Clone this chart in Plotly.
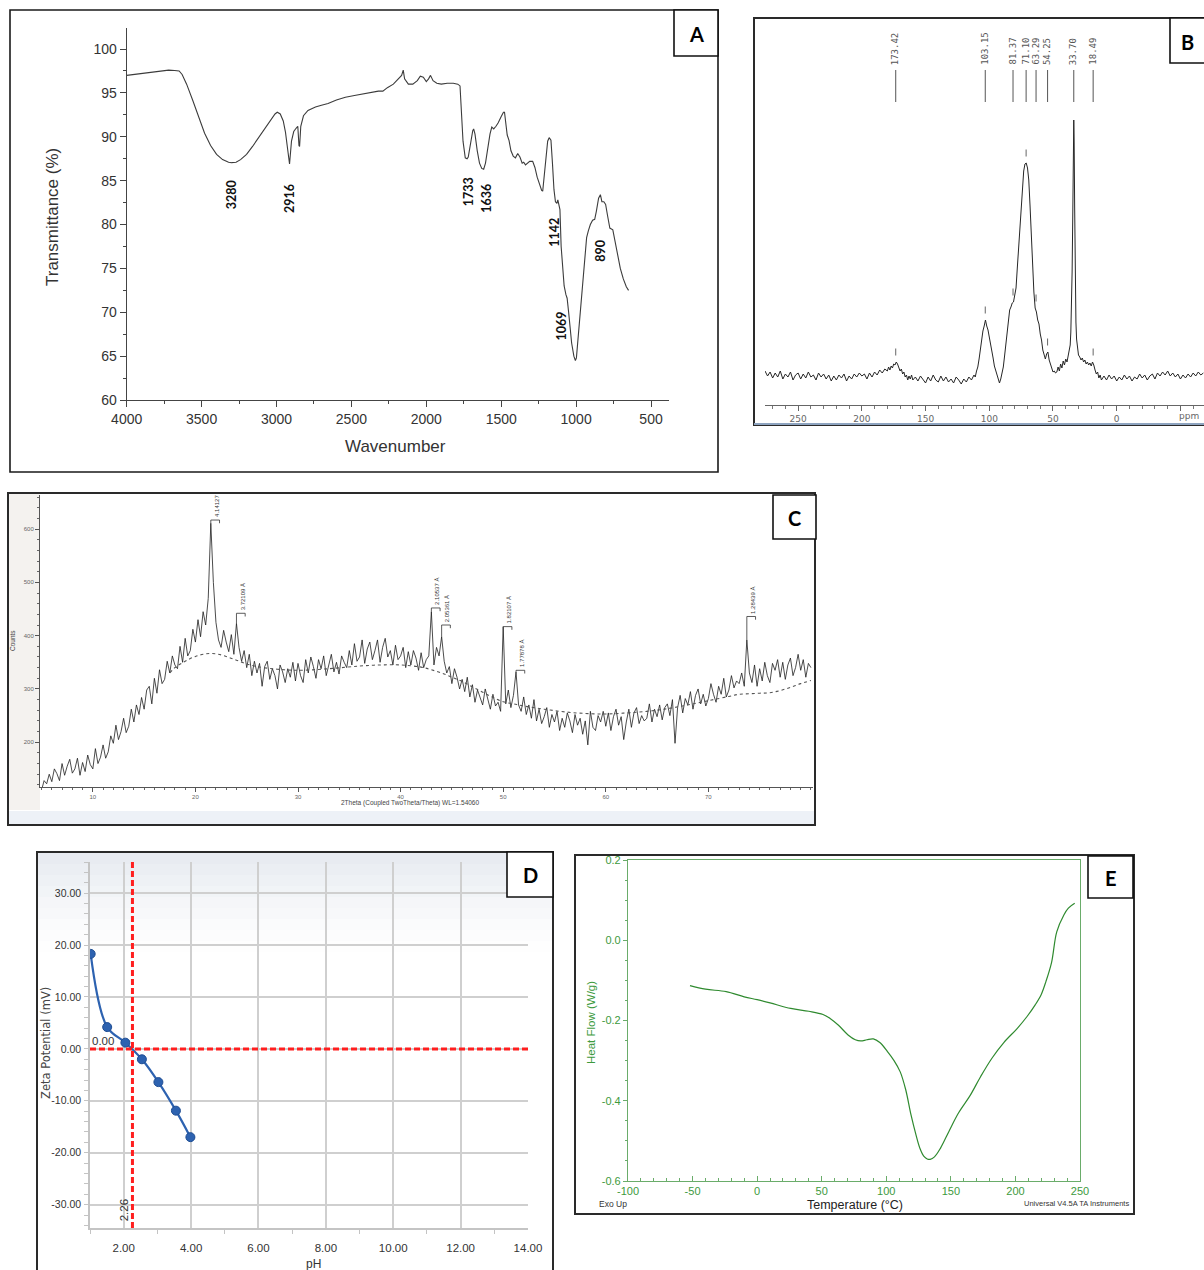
import plotly.graph_objects as go

W, H = 1204, 1270

# ---------------- A: FTIR spectrum ----------------
ftir_wavenumber = [4000, 3950, 3900, 3850, 3800, 3760, 3720, 3680, 3650, 3630,
                   3600, 3560, 3520, 3480, 3440, 3400, 3360, 3320, 3300, 3270,
                   3240, 3200, 3160, 3120, 3080, 3040, 3010, 2995, 2975, 2955,
                   2940, 2925, 2913, 2900, 2885, 2868, 2858, 2850, 2846, 2838,
                   2820, 2790, 2740, 2700, 2656, 2600, 2540, 2480, 2420, 2360,
                   2320, 2290, 2260, 2220, 2190, 2165, 2154, 2145, 2120, 2090,
                   2060, 2040, 2020, 2000, 1985, 1972, 1955, 1930, 1900, 1860,
                   1820, 1790, 1775, 1765, 1755, 1740, 1728, 1720, 1705, 1690,
                   1684, 1675, 1660, 1645, 1630, 1617, 1605, 1590, 1575, 1563,
                   1550, 1535, 1520, 1500, 1485, 1478, 1470, 1460, 1448, 1435,
                   1420, 1405, 1390, 1375, 1360, 1350, 1338, 1325, 1310, 1290,
                   1275, 1260, 1245, 1230, 1223, 1212, 1200, 1190, 1180, 1168,
                   1158, 1148, 1138, 1128, 1122, 1115, 1108, 1100, 1090, 1080,
                   1068, 1060, 1050, 1040, 1030, 1015, 1005, 998, 990, 980,
                   970, 958, 945, 930, 918, 905, 890, 876, 865, 850,
                   838, 828, 815, 803, 790, 775, 755, 740, 725, 705,
                   685, 665, 650]
ftir_transmittance = [97.0, 97.1, 97.2, 97.35, 97.4, 97.5, 97.6, 97.55, 97.5, 97.1,
                      96.0, 94.2, 92.2, 90.4, 89.0, 88.0, 87.4, 87.1, 87.05, 87.1,
                      87.4, 88.0, 88.9, 89.9, 90.9, 91.9, 92.6, 92.8, 92.6, 91.8,
                      90.5, 88.5, 86.9, 89.5, 90.6, 91.0, 91.2, 89.0, 88.9, 91.2,
                      92.4, 93.0, 93.4, 93.6, 93.8, 94.2, 94.5, 94.7, 94.9, 95.1,
                      95.2, 95.2, 95.6, 96.0, 96.6, 97.0, 97.6, 96.6, 96.0, 96.0,
                      96.4, 96.9, 96.8, 96.3, 96.6, 97.0, 96.4, 96.1, 96.0, 96.1,
                      96.1, 96.0, 95.8, 93.0, 89.5, 87.6, 87.5, 87.7, 89.5, 90.7,
                      90.9, 90.3, 88.4, 87.0, 86.4, 86.3, 87.0, 88.8, 90.3, 91.1,
                      90.9, 91.2, 91.6, 92.3, 92.8, 92.8, 91.5, 90.2, 89.6, 88.4,
                      87.8, 87.6, 88.1, 87.7, 87.0, 87.1, 86.8, 87.0, 87.2, 87.2,
                      86.5, 85.4, 84.5, 83.9, 83.8, 85.5, 88.0, 89.5, 89.9, 89.6,
                      87.0, 84.0, 82.6, 82.4, 82.8, 82.2, 81.7, 77.5, 75.0, 73.0,
                      72.0, 71.6, 70.0, 68.0, 66.5, 65.0, 64.5, 64.8, 66.5, 68.8,
                      71.0, 73.5, 76.0, 78.5, 79.3, 80.0, 80.5, 80.6, 81.5, 83.0,
                      83.4, 82.6, 82.6, 82.3, 81.0, 79.6, 79.4, 78.0, 76.5, 75.0,
                      73.8, 72.9, 72.5]
ftir_band_labels = ["3280", "2916", "1733", "1636", "1142", "890", "1069"]
ftir_label_wavenumber = [3300, 2912, 1720, 1598, 1145, 834, 1101]
ftir_label_transmittance = [83.4, 83.0, 83.7, 83.0, 79.1, 77.0, 68.5]

# ---------------- B: 13C CP-MAS NMR ----------------
nmr_ppm = (list(range(276, 181, -2)) + list(range(180, 159, -1)) + list(range(158, 111, -2))
           + list(range(111, 36, -1))
           + [36.5, 36, 35.5, 35, 34.5, 34, 33.7, 33.4, 33, 32.5, 32, 31.5, 31, 30.5]
           + list(range(30, 11, -1)) + list(range(10, -69, -2)))
nmr_intensity = ([6, 1, 5, -1, 4, 0, 6, -2, 3, 0, 5, -3, 2, 4, -2, 3, -1, 5, 0, 2,
                  -3, 4, 0, 3, -2, 2, -4, 1, -3, 2, -1, 3, -4, 1, -2, 3, 0, 4, 1, 3,
                  -2, 4, 0, 5, 2, 7, 4, 8]
                 + [6, 10, 7, 11, 9, 13, 12, 15, 13, 10, 6, 8, 3, 5, 0, 2, -3, 1, -2, 2, -3]
                 + [0, -4, 1, -3, -6, 0, -4, 2, -3, -5, 1, -4, 0, -5, -2, -6, 0, -3, -7, -2, -5, 0, -3, 2]
                 + [0, 6, 10, 18, 28, 38, 46, 51, 57, 51, 47, 40, 34, 25, 19, 11, 7, 1, -3, -6,
                    -2, 4, 10, 21, 33, 49, 59, 67, 70, 74, 75, 81, 89, 109, 129, 156, 177, 197, 206, 213,
                    214, 209, 197, 171, 141, 107, 85, 69, 65, 57, 53, 43, 37, 27, 23, 18, 23, 25, 17, 12,
                    7, 5, 6, 4, 5, 10, 6, 13, 9, 16, 12, 18, 15, 21, 26]
                 + [32, 45, 70, 105, 160, 225, 257, 235, 170, 95, 55, 38, 30, 25]
                 + [22, 20, 17, 19, 15, 17, 13, 15, 12, 14, 11, 15, 12, 7, 3, 5, -1, 2, -3]
                 + [1, -3, 2, -2, 1, -4, 0, -3, 2, -2, 1, -4, 0, -2, 3, -1, 2, -3, 1, 3,
                    -2, 4, 1, 5, 2, 6, 1, 4, 0, 3, -2, 2, -1, 3, 0, 4, 1, 5, 2, 4])
nmr_peak_ppm = [173.42, 103.15, 81.37, 71.10, 63.29, 54.25, 33.70, 18.49]
nmr_tick_labels = ["250", "200", "150", "100", "50", "0", ""]

# ---------------- C: XRD pattern ----------------
xrd_counts = [110, 128, 122, 140, 126, 150, 141, 128, 160, 138, 155, 168, 142, 150, 170, 138,
              162, 145, 176, 158, 150, 188, 160, 172, 195, 170, 182, 212, 198, 232, 205, 220,
              245, 218, 230, 262, 238, 270, 252, 284, 262, 298, 305, 272, 320, 292, 336, 310,
              318, 352, 330, 362, 345, 338, 380, 350, 395, 362, 372, 412, 388, 430, 398, 445,
              420, 470, 611, 500, 425, 392, 378, 410, 388, 370, 402, 365, 423, 378, 352, 372,
              340, 365, 325, 352, 330, 348, 305, 342, 352, 318, 338, 325, 300, 345, 332, 312,
              338, 322, 350, 315, 348, 325, 312, 355, 330, 360, 342, 320, 355, 338, 362, 325,
              345, 365, 332, 350, 328, 362, 350, 340, 372, 345, 385, 352, 360, 392, 348, 375,
              388, 355, 372, 392, 350, 378, 395, 360, 372, 345, 382, 355, 362, 378, 340, 370,
              345, 372, 358, 335, 368, 340, 355, 362, 445, 345, 378, 362, 398, 352, 330, 342,
              310, 338, 322, 300, 318, 295, 322, 285, 308, 275, 298, 285, 270, 300, 282, 262,
              290, 268, 275, 258, 417, 272, 298, 265, 288, 332, 270, 258, 285, 252, 270, 245,
              280, 240, 262, 235, 248, 265, 228, 252, 238, 258, 222, 245, 228, 255, 240, 218,
              252, 232, 245, 215, 240, 195, 258, 228, 222, 250, 238, 258, 230, 255, 222, 248,
              262, 232, 248, 205, 238, 262, 228, 255, 265, 235, 250, 240, 245, 272, 238, 262,
              248, 270, 242, 265, 272, 250, 280, 198, 265, 288, 255, 282, 270, 295, 262, 288,
              300, 272, 290, 268, 282, 310, 290, 275, 305, 290, 320, 285, 298, 325, 302, 315,
              310, 330, 305, 392, 330, 312, 345, 305, 338, 315, 350, 325, 312, 348, 335, 355,
              322, 350, 318, 345, 358, 325, 340, 365, 335, 355, 322, 348, 340]
xrd_two_theta = [5 + 0.25 * i for i in range(len(xrd_counts))]
xrd_bg_two_theta = [17.5, 18, 19, 20, 21, 22, 23, 24, 25, 26, 28, 30, 33, 36, 38, 40, 42, 43, 44, 45,
                    46, 47, 48, 49, 50, 51, 52, 54, 56, 58, 60, 62, 64, 66, 68, 70, 72, 73, 74, 75,
                    76, 77, 78, 79, 80]
xrd_bg_counts = [330, 340, 352, 361, 366, 366, 361, 354, 347, 342, 337, 335, 338, 343, 345, 345, 341, 336, 330, 322,
                 314, 304, 294, 284, 276, 272, 268, 262, 257, 254, 253, 255, 258, 263, 270, 278, 286, 290, 291, 292,
                 293, 297, 303, 310, 316]
xrd_peak_two_theta = [21.5, 24.0, 43.0, 44.0, 50.0, 51.25, 73.75]
xrd_peak_labels = ["4.14127", "3.72109 Å", "2.10537 Å", "2.05361 Å", "1.82107 Å", "1.77878 Å", "1.28439 Å"]
xrd_tag_level = [617, 442, 452, 420, 417, 335, 436]
xrd_theta_ticks = [10, 20, 30, 40, 50, 60, 70]

# ---------------- D: zeta potential vs pH ----------------
zeta_ph = [1.02, 1.51, 2.05, 2.54, 3.03, 3.55, 3.98]
zeta_mv = [18.3, 4.2, 1.2, -2.0, -6.4, -11.9, -17.0]
iep_ph = 2.26
zeta_ticks = [-30, -20, -10, 0, 10, 20, 30]

# ---------------- E: DSC thermogram ----------------
dsc_temp = [-52, -40, -24, -10, 0, 10, 26, 40, 51, 56.5, 63, 70.4, 76, 80.2, 85, 90, 95, 101, 106, 110.8,
            115, 119.2, 123, 126.1, 129, 131.7, 134, 137.3, 142, 148.4, 156, 165.1, 173, 181.8, 191, 201.3,
            209, 215.3, 220, 223.6, 228, 232, 237.5, 241, 245.9]
dsc_heat_flow = [-0.113, -0.122, -0.128, -0.141, -0.148, -0.156, -0.170, -0.177, -0.185, -0.195,
                 -0.212, -0.236, -0.248, -0.251, -0.248, -0.246, -0.255, -0.278, -0.300, -0.328,
                 -0.372, -0.436, -0.485, -0.519, -0.538, -0.545, -0.546, -0.540, -0.518, -0.477,
                 -0.430, -0.386, -0.340, -0.294, -0.255, -0.220, -0.190, -0.161, -0.135, -0.103,
                 -0.055, 0.021, 0.063, 0.080, 0.092]
dsc_temp_ticks = [-100, -50, 0, 50, 100, 150, 200, 250]
dsc_flow_ticks = [-0.6, -0.4, -0.2, 0.0, 0.2]

assert len(ftir_wavenumber) == len(ftir_transmittance)
assert len(nmr_ppm) == len(nmr_intensity)
assert len(xrd_bg_two_theta) == len(xrd_bg_counts)
assert len(dsc_temp) == len(dsc_heat_flow)


# pixel -> paper helpers
def px(x):
    return x / W


def py(y):
    return 1 - y / H


def dom_x(left, right):
    return [left / W, right / W]


def dom_y(top, bottom):
    return [1 - bottom / H, 1 - top / H]


def hyphen(v, fmt):
    # plain ASCII hyphen for negative tick labels
    return (fmt % v).replace("\u2212", "-")


SANS = "Liberation Sans, Arial, sans-serif"
MONO = "DejaVu Sans Mono, Liberation Mono, monospace"
LETTER = "Lato, Open Sans, sans-serif"
GREEN_TXT = "#3d9a3d"
GREEN_AX = "#6aac6a"

fig = go.Figure()
shapes = []
notes = []


def note(x, y, text, **kw):
    d = dict(x=px(x), y=py(y), xref="paper", yref="paper", text=text, showarrow=False,
             xanchor="center", yanchor="middle")
    d.update(kw)
    notes.append(d)


def box(x0, y0, x1, y1, **kw):
    d = dict(type="rect", xref="paper", yref="paper", x0=px(x0), x1=px(x1), y0=py(y1), y1=py(y0))
    d.update(kw)
    shapes.append(d)


def nearest(xs, ys, x0, half):
    vals = [v for u, v in zip(xs, ys) if abs(u - x0) <= half]
    return max(vals)


# ---- A ----
fig.add_trace(go.Scatter(x=ftir_wavenumber, y=ftir_transmittance, mode="lines",
                         line=dict(color="#3c3c3c", width=1.1), xaxis="x", yaxis="y",
                         hoverinfo="skip"))
for lab, wx, ty in zip(ftir_band_labels, ftir_label_wavenumber, ftir_label_transmittance):
    notes.append(dict(x=wx, y=ty, xref="x", yref="y", text="<b>%s</b>" % lab, showarrow=False,
                      textangle=-90, xanchor="center", yanchor="middle",
                      font=dict(family=LETTER, size=12.5, color="#111")))
note(53, 217, "Transmittance (%)", textangle=-90, font=dict(family=SANS, size=17, color="#333"))
note(395, 447, "Wavenumber", font=dict(family=SANS, size=17, color="#333"))

# ---- B ----
fig.add_trace(go.Scatter(x=nmr_ppm, y=nmr_intensity, mode="lines",
                         line=dict(color="#262626", width=1), xaxis="x2", yaxis="y2", hoverinfo="skip"))
seg_x, seg_y = [], []
for p in nmr_peak_ppm:
    seg_x += [p, p, None]
    seg_y += [275, 307, None]
fig.add_trace(go.Scatter(x=seg_x, y=seg_y, mode="lines", line=dict(color="#555", width=1),
                         xaxis="x2", yaxis="y2", hoverinfo="skip"))
tick_ppm = [p for p in nmr_peak_ppm if p != 33.70]
tick_int = [nearest(nmr_ppm, nmr_intensity, p, 1.0) + 10 for p in tick_ppm]
fig.add_trace(go.Scatter(x=tick_ppm, y=tick_int, mode="markers",
                         marker=dict(symbol="line-ns", size=5, line=dict(color="#666", width=1)),
                         xaxis="x2", yaxis="y2", hoverinfo="skip"))
for p in nmr_peak_ppm:
    notes.append(dict(x=p, y=310, xref="x2", yref="y2", text="%.2f" % p, showarrow=False,
                      textangle=-90, xanchor="center", yanchor="bottom",
                      font=dict(family=MONO, size=9, color="#555")))
notes.append(dict(x=-57, y=-28, xref="x2", yref="y2", yshift=-11, text="ppm", showarrow=False,
                  xanchor="center", yanchor="middle",
                  font=dict(family="DejaVu Sans", size=9, color="#666")))

# ---- C ----
fig.add_trace(go.Scatter(x=xrd_two_theta, y=xrd_counts, mode="lines",
                         line=dict(color="#1e1e1e", width=0.8), xaxis="x3", yaxis="y3", hoverinfo="skip"))
fig.add_trace(go.Scatter(x=xrd_bg_two_theta, y=xrd_bg_counts, mode="lines", line_shape="spline",
                         line=dict(color="#555", width=1.1, dash="dot"), xaxis="x3", yaxis="y3",
                         hoverinfo="skip"))
bx, by = [], []
for t, lvl, lab in zip(xrd_peak_two_theta, xrd_tag_level, xrd_peak_labels):
    top = nearest(xrd_two_theta, xrd_counts, t, 0.13)
    bx += [t, t, t + 0.85, t + 0.85, None]
    by += [top, lvl, lvl, lvl - 6, None]
    notes.append(dict(x=t + 0.6, y=lvl + 2, xref="x3", yref="y3", text=lab, showarrow=False,
                      textangle=-90, xanchor="center", yanchor="bottom",
                      font=dict(family=SANS, size=6, color="#333")))
fig.add_trace(go.Scatter(x=bx, y=by, mode="lines", line=dict(color="#333", width=0.8),
                         xaxis="x3", yaxis="y3", hoverinfo="skip"))
note(12, 641, "Counts", textangle=-90, font=dict(family=SANS, size=6.5, color="#444"))
note(410, 803, "2Theta (Coupled TwoTheta/Theta) WL=1.54060", font=dict(family=SANS, size=6.5, color="#444"))

# ---- D ----
fig.add_trace(go.Scatter(x=zeta_ph, y=zeta_mv, mode="lines+markers", line_shape="spline",
                         line=dict(color="#2d62b0", width=2.2, smoothing=1.0),
                         marker=dict(size=9, color="#2d62b0", line=dict(color="#1d4c92", width=1)),
                         xaxis="x4", yaxis="y4", hoverinfo="skip"))
shapes.append(dict(type="line", xref="x4", yref="y4", x0=1, x1=14, y0=0, y1=0,
                   line=dict(color="#ff1f1f", width=3, dash="6px,3px"), layer="above"))
shapes.append(dict(type="line", xref="x4", yref="y4", x0=iep_ph, x1=iep_ph, y0=-34.5, y1=36.0,
                   line=dict(color="#ff1f1f", width=3, dash="6px,3px"), layer="above"))
notes.append(dict(x=1.39, y=1.6, xref="x4", yref="y4", text="0.00", showarrow=False,
                  xanchor="center", yanchor="middle",
                  font=dict(family=SANS, size=11.5, color="#333")))
notes.append(dict(x=iep_ph, y=-31, xref="x4", yref="y4", text="%.2f" % iep_ph, showarrow=False,
                  textangle=-90, xanchor="right", yanchor="middle", xshift=-1,
                  font=dict(family=SANS, size=11.5, color="#333")))
note(46, 1043, "Zeta Potential (mV)", textangle=-90, font=dict(family="DejaVu Sans", size=11.5, color="#444"))
note(313, 1264, "pH", font=dict(family=SANS, size=12, color="#333"))

# ---- E ----
fig.add_trace(go.Scatter(x=dsc_temp, y=dsc_heat_flow, mode="lines", line_shape="spline",
                         line=dict(color="#2f8a2f", width=1.2), xaxis="x5", yaxis="y5", hoverinfo="skip"))
note(591, 1023, "Heat Flow (W/g)", textangle=-90, font=dict(family=SANS, size=11.5, color=GREEN_TXT))
note(855, 1205, "Temperature (°C)", font=dict(family=SANS, size=12.5, color="#222"))
note(597, 1204, "Exo Up", xanchor="left", font=dict(family=SANS, size=8.5, color="#333"))
note(1131, 1203, "Universal V4.5A TA Instruments", xanchor="right",
     font=dict(family=SANS, size=7.5, color="#333"))

# ---- panel backgrounds and frames ----
# C: grey strip left of the axis and pale band at the bottom
box(9, 494, 40, 810, fillcolor="#f4f2ef", line=dict(width=0), layer="below")
box(9, 811, 814, 824, fillcolor="#edf1f7", line=dict(width=0), layer="below")
# D: soft tinted header fading to white
for i, op in enumerate([0.9, 0.78, 0.65, 0.52, 0.4, 0.3, 0.2, 0.12, 0.05]):
    box(38, 853 + 11 * i, 552, 864 + 11 * i, fillcolor="#e5e9f0", opacity=op,
        line=dict(width=0), layer="below")

frame = dict(color="#1a1a1a", width=1.6)
box(10, 10, 718, 472, line=frame, layer="above")
box(754, 18, 1220, 425, line=dict(color="#2a2a2a", width=2), layer="above")
shapes.append(dict(type="line", xref="paper", yref="paper", x0=px(754), x1=1.02, y0=py(424), y1=py(424),
                   line=dict(color="#8ea4c0", width=2), layer="above"))
box(8, 493, 815, 825, line=dict(color="#2a2a2a", width=2), layer="above")
box(37, 852, 553, 1290, line=dict(color="#2a2a2a", width=2), layer="above")
box(575, 855, 1134, 1214, line=dict(color="#2a2a2a", width=2), layer="above")

# panel letters
letters = [("A", 674, 10, 718, 56), ("B", 1170, 18, 1220, 63), ("C", 773, 495, 816, 539),
           ("D", 507, 852, 553, 897), ("E", 1088, 856, 1133, 898)]
for letter, x0, y0, x1, y1 in letters:
    box(x0, y0, x1, y1, fillcolor="white", line=dict(color="#111", width=1.6), layer="above")
    cx = (x0 + x1) / 2 if letter != "B" else 1187
    note(cx, (y0 + y1) / 2 + 1, "<b>%s</b>" % letter, font=dict(family=LETTER, size=20, color="#000"))

axis_common = dict(showgrid=False, zeroline=False, showline=True, automargin=False)

fig.update_layout(
    template="none",
    width=W, height=H, margin=dict(l=0, r=0, t=0, b=0, pad=0), autosize=False,
    paper_bgcolor="white", plot_bgcolor="rgba(0,0,0,0)", showlegend=False,
    shapes=shapes, annotations=notes,
    # A
    xaxis=dict(domain=dom_x(126.7, 669), range=[4000, 380], anchor="y", tick0=0, dtick=500,
               ticks="outside", ticklen=6, tickcolor="#444", linecolor="#444", linewidth=1.2,
               tickfont=dict(family=SANS, size=14, color="#333"),
               minor=dict(ticks="outside", ticklen=3, tick0=0, dtick=250, tickcolor="#444"),
               **axis_common),
    yaxis=dict(domain=dom_y(28, 400), range=[60, 102.4], anchor="x", tick0=0, dtick=5,
               ticks="outside", ticklen=6, tickcolor="#444", linecolor="#444", linewidth=1.2,
               tickfont=dict(family=SANS, size=14, color="#333"),
               minor=dict(ticks="outside", ticklen=3, tick0=0, dtick=2.5, tickcolor="#444"),
               **axis_common),
    # B
    xaxis2=dict(domain=dom_x(765, 1204), range=[276, -68.5], anchor="y2",
                tickvals=[250, 200, 150, 100, 50, 0, -50], ticktext=nmr_tick_labels,
                ticks="outside", ticklen=5, tickcolor="#666", linecolor="#666", linewidth=1,
                tickfont=dict(family="DejaVu Sans", size=9, color="#666"),
                minor=dict(ticks="outside", ticklen=3, tick0=0, dtick=10, tickcolor="#777"),
                **axis_common),
    yaxis2=dict(domain=dom_y(20, 405), range=[-28, 357], anchor="x2", visible=False, automargin=False),
    # C
    xaxis3=dict(domain=dom_x(40, 813), range=[4.85, 80.2], anchor="y3", tickvals=xrd_theta_ticks,
                ticks="outside", ticklen=4, tickcolor="#555", linecolor="#555", linewidth=1,
                tickfont=dict(family=SANS, size=6, color="#666"),
                minor=dict(ticks="outside", ticklen=2, tick0=0, dtick=1, tickcolor="#666"),
                **axis_common),
    yaxis3=dict(domain=dom_y(495, 787), range=[116, 664], anchor="x3", tick0=0, dtick=100,
                ticks="outside", ticklen=4, tickcolor="#555", linecolor="#555", linewidth=1,
                tickfont=dict(family=SANS, size=6, color="#666"),
                minor=dict(ticks="outside", ticklen=2, tick0=0, dtick=20, tickcolor="#666"),
                **axis_common),
    # D
    xaxis4=dict(domain=dom_x(90, 528), range=[1, 14], anchor="y4", tick0=0, dtick=2, tickformat=".2f",
                showgrid=True, gridcolor="#cfcfcf", gridwidth=1.5, zeroline=False, automargin=False,
                showline=True, linecolor="#c4c4c4", linewidth=1.5, ticks="", ticklabelstandoff=8,
                tickfont=dict(family=SANS, size=11.5, color="#333"),
                minor=dict(ticks="outside", ticklen=4, tick0=0, dtick=1, tickcolor="#c4c4c4")),
    yaxis4=dict(domain=dom_y(862, 1228), range=[-34.5, 36.0], anchor="x4",
                tickvals=zeta_ticks, ticktext=[hyphen(v, "%.2f") for v in zeta_ticks],
                showgrid=True, gridcolor="#cfcfcf", gridwidth=1.5, zeroline=False, automargin=False,
                showline=True, linecolor="#c4c4c4", linewidth=1.5, ticks="", ticklabelstandoff=5,
                tickfont=dict(family=SANS, size=10.5, color="#333"),
                minor=dict(ticks="outside", ticklen=4, tick0=0, dtick=2, tickcolor="#c4c4c4")),
    # E
    xaxis5=dict(domain=dom_x(628, 1080), range=[-100, 250], anchor="y5",
                tickvals=dsc_temp_ticks, ticktext=[hyphen(v, "%d") for v in dsc_temp_ticks],
                ticks="inside", ticklen=5, tickcolor=GREEN_AX, linecolor=GREEN_AX, linewidth=1.2,
                mirror=True, tickfont=dict(family=SANS, size=11, color=GREEN_TXT),
                minor=dict(ticks="inside", ticklen=3, tick0=0, dtick=10, tickcolor=GREEN_AX),
                **axis_common),
    yaxis5=dict(domain=dom_y(860, 1181), range=[-0.6, 0.2], anchor="x5",
                tickvals=dsc_flow_ticks, ticktext=[hyphen(v, "%.1f") for v in dsc_flow_ticks],
                ticks="outside", ticklen=4, tickcolor=GREEN_AX, linecolor=GREEN_AX,
                linewidth=1.2, mirror=True, tickfont=dict(family=SANS, size=11, color=GREEN_TXT),
                minor=dict(ticks="outside", ticklen=2, tick0=0, dtick=0.05, tickcolor=GREEN_AX),
                **axis_common),
)

fig.write_html("out.html")
